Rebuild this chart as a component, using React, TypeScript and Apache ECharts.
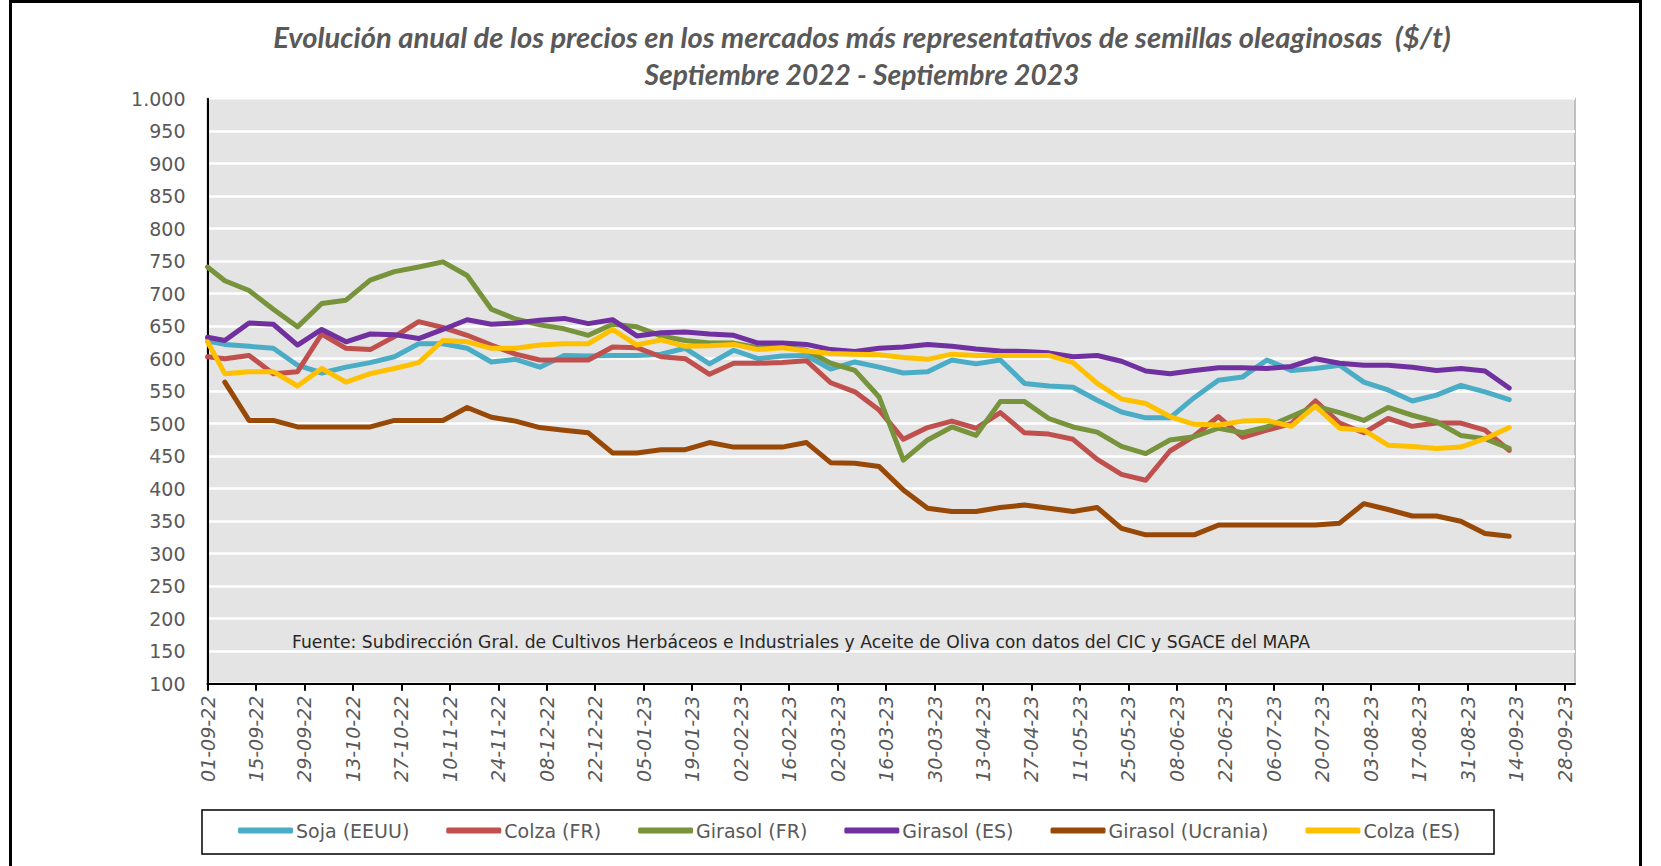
import React, { useEffect, useRef } from "react";
import * as echarts from "echarts";

// Observation dates (first point 01-09-22, then weekly Tuesdays)
const pointDates = [
  "01-09-22",
  "06-09-22", "13-09-22", "20-09-22", "27-09-22",
  "04-10-22", "11-10-22", "18-10-22", "25-10-22",
  "01-11-22", "08-11-22", "15-11-22", "22-11-22", "29-11-22",
  "06-12-22", "13-12-22", "20-12-22", "27-12-22",
  "03-01-23", "10-01-23", "17-01-23", "24-01-23", "31-01-23",
  "07-02-23", "14-02-23", "21-02-23", "28-02-23",
  "07-03-23", "14-03-23", "21-03-23", "28-03-23",
  "04-04-23", "11-04-23", "18-04-23", "25-04-23",
  "02-05-23", "09-05-23", "16-05-23", "23-05-23", "30-05-23",
  "06-06-23", "13-06-23", "20-06-23", "27-06-23",
  "04-07-23", "11-07-23", "18-07-23", "25-07-23",
  "01-08-23", "08-08-23", "15-08-23", "22-08-23", "29-08-23",
  "05-09-23", "12-09-23",
];

// Axis tick labels (every two weeks)
const tickDates = [
  "01-09-22", "15-09-22", "29-09-22", "13-10-22", "27-10-22", "10-11-22",
  "24-11-22", "08-12-22", "22-12-22", "05-01-23", "19-01-23", "02-02-23",
  "16-02-23", "02-03-23", "16-03-23", "30-03-23", "13-04-23", "27-04-23",
  "11-05-23", "25-05-23", "08-06-23", "22-06-23", "06-07-23", "20-07-23",
  "03-08-23", "17-08-23", "31-08-23", "14-09-23", "28-09-23",
];

const sojaEEUU = [
  627, 622, 619, 616, 590, 578, 587, 594, 603, 623, 623, 616, 595, 599, 587,
  605, 604, 605, 605, 607, 616, 592, 613, 600, 604, 605, 584, 595, 587, 578,
  580, 598, 592, 598, 562, 558, 556, 536, 518, 509, 509, 540, 567, 572, 598,
  582, 585, 590, 564, 552, 535, 544, 559, 549, 537,
];
const colzaFR = [
  603, 600, 605, 577, 580, 638, 616, 614, 634, 657, 648, 636, 621, 607, 598,
  598, 598, 618, 617, 603, 600, 576, 593, 593, 594, 597, 563, 549, 521, 476,
  494, 504, 493, 517, 486, 484, 476, 445, 422, 413, 458, 481, 511, 479, 490,
  500, 535, 501, 486, 508, 496, 501, 501, 490, 459,
];
const girasolFR = [
  741, 720, 705, 676, 649, 685, 690, 721, 734, 741, 749, 728, 676, 661, 652,
  646, 636, 653, 649, 635, 628, 624, 624, 617, 618, 613, 593, 582, 541, 444,
  475, 495, 482, 534, 534, 508, 495, 487, 465, 454, 475, 480, 493, 486, 495,
  511, 527, 517, 505, 525, 513, 503, 482, 477, 462,
];
const girasolES = [
  633, 628, 655, 653, 621, 645, 626, 638, 637, 631, 645, 660, 653, 655, 659,
  662, 654, 660, 635, 640, 641, 638, 636, 624, 624, 622, 614, 611, 616, 618,
  622, 619, 615, 612, 611, 609, 603, 605, 596, 581, 577, 582, 586, 586, 585,
  588, 600, 593, 590, 590, 587, 582, 585, 581, 555,
];
const girasolUcrania = [
  null, 564, 505, 505, 495, 495, 495, 495, 505, 505, 505, 525, 510, 504, 494,
  490, 486, 455, 455, 460, 460, 471, 464, 464, 464, 471, 440, 439, 434, 398,
  370, 365, 365, 371, 375, 370, 365, 371, 339, 329, 329, 329, 344, 344, 344,
  344, 344, 347, 377, 368, 358, 358, 350, 331, 327,
];
const colzaES = [
  626, 577, 580, 580, 558, 585, 564, 577, 585, 594, 628, 626, 616, 616, 621,
  623, 623, 645, 621, 629, 619, 620, 622, 614, 617, 612, 608, 607, 606, 602,
  599, 607, 605, 605, 605, 605, 594, 562, 538, 531, 511, 499, 498, 504, 505,
  496, 527, 493, 490, 467, 465, 462, 464, 477, 494,
];

const seriesNames = [
  "Soja (EEUU)", "Colza (FR)", "Girasol (FR)", "Girasol (ES)", "Girasol (Ucrania)", "Colza (ES)",
];
const seriesValues = [sojaEEUU, colzaFR, girasolFR, girasolES, girasolUcrania, colzaES];
const seriesColors = ["#4BACC6", "#C0504D", "#77933C", "#7030A0", "#984807", "#FFC000"];

const titleLine1 =
  "Evolución anual de los precios en los mercados más representativos de semillas oleaginosas  ($/t)";
const titleLine2 = "Septiembre 2022 - Septiembre 2023";
const sourceNote =
  "Fuente: Subdirección Gral. de Cultivos Herbáceos e Industriales y Aceite de Oliva con datos del CIC y SGACE del MAPA";

function dayNumber(s: string): number {
  const [d, m, y] = s.split("-").map(Number);
  return Math.round(Date.UTC(2000 + y, m - 1, d) / 86400000);
}
const origin = dayNumber(tickDates[0]);
const toX = (s: string) => dayNumber(s) - origin;
const tickValues = tickDates.map(toX);
const tickLabelMap: Record<number, string> = {};
tickDates.forEach((t) => (tickLabelMap[toX(t)] = t));

const AXIS_FONT = "'DejaVu Sans', Verdana, sans-serif";
const GREY_TEXT = "#595959";

const titleStyle = (size: number) => ({
  fontFamily: "Lato, sans-serif",
  fontStyle: "italic",
  fontWeight: "bold",
  fontSize: size,
  color: GREY_TEXT,
});

export default function App() {
  const ref = useRef<HTMLDivElement>(null);
  useEffect(() => {
    const chart = echarts.init(ref.current!, null, { renderer: "svg" });
    const series = seriesNames.map((name, si) => ({
      name,
      type: "line",
      showSymbol: false,
      symbol: "none",
      data: seriesValues[si]
        .map((v, i) => [toX(pointDates[i]), v])
        .filter((p) => p[1] !== null),
      lineStyle: { width: 5, color: seriesColors[si], cap: "round", join: "round" },
      itemStyle: { color: seriesColors[si] },
      z: 3 + si,
    }));
    const option: any = {
      animation: false,
      backgroundColor: "#ffffff",
      title: [
        { text: titleLine1, left: 857, top: 17, textAlign: "center", textStyle: titleStyle(29.2) },
        { text: titleLine2, left: 857, top: 55, textAlign: "center", textStyle: titleStyle(28.2) },
      ],
      grid: {
        left: 207.5,
        right: 86,
        top: 98.7,
        bottom: 182.3,
        show: true,
        backgroundColor: "#e4e4e4",
        borderColor: "#bfbfbf",
        borderWidth: 2,
      },
      legend: {
        left: 238,
        top: 821,
        padding: 0,
        itemGap: 37,
        itemWidth: 55,
        itemHeight: 6,
        icon: "roundRect",
        data: seriesNames,
        textStyle: { fontFamily: AXIS_FONT, fontSize: 19, color: GREY_TEXT, padding: [0, 0, 0, -2] },
      },
      xAxis: {
        type: "value",
        min: 0,
        max: 395,
        interval: 14,
        axisLine: { show: true, lineStyle: { color: "#000", width: 2 } },
        axisTick: {
          show: true,
          length: 7,
          customValues: tickValues,
          lineStyle: { color: "#000", width: 2 },
        },
        axisLabel: {
          customValues: tickValues,
          rotate: 90,
          margin: 12,
          fontFamily: AXIS_FONT,
          fontStyle: "italic",
          fontSize: 19,
          color: GREY_TEXT,
          formatter: (v: number) => tickLabelMap[Math.round(v)] ?? "",
        },
        splitLine: { show: false },
      },
      yAxis: {
        type: "value",
        min: 100,
        max: 1000,
        interval: 50,
        axisLine: { show: true, lineStyle: { color: "#000", width: 2 } },
        axisTick: { show: false },
        axisLabel: {
          margin: 22,
          fontFamily: AXIS_FONT,
          fontSize: 19,
          color: GREY_TEXT,
          formatter: (v: number) => (v >= 1000 ? "1.000" : String(v)),
        },
        splitLine: { show: true, lineStyle: { color: "#ffffff", width: 2.5 } },
      },
      graphic: [
        {
          type: "rect",
          z: -10,
          shape: { x: 10.5, y: 1.5, width: 1630, height: 880 },
          style: { fill: "none", stroke: "#000", lineWidth: 3 },
          silent: true,
        },
        {
          type: "rect",
          z: 0,
          shape: { x: 202, y: 810, width: 1292, height: 44 },
          style: { fill: "none", stroke: "#000", lineWidth: 1.5 },
          silent: true,
        },
        {
          type: "text",
          z: 100,
          x: 292,
          y: 642,
          style: {
            text: sourceNote,
            fontFamily: AXIS_FONT,
            fontSize: 17.2,
            fill: "#262626",
            verticalAlign: "middle",
            textAlign: "left",
          },
          silent: true,
        },
      ],
      series,
    };
    chart.setOption(option);
    return () => chart.dispose();
  }, []);
  return (
    <div
      ref={ref}
      style={{ position: "fixed", left: 0, top: 0, width: 1661, height: 866, background: "#fff" }}
    />
  );
}
